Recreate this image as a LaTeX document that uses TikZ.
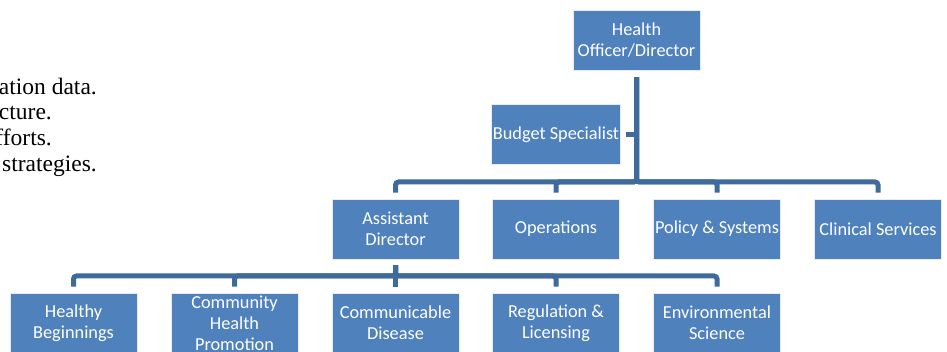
\documentclass[tikz,border=0pt]{standalone}
\usepackage{fontspec}
\setmainfont{Liberation Serif}
\newfontfamily\boxfont{Carlito}
\usepackage{tikz}
\usetikzlibrary{positioning}

\definecolor{orgblue}{HTML}{4F81BD}
\definecolor{orgline}{HTML}{3F6A9C}

\begin{document}
\begin{tikzpicture}[x=1pt, y=-1pt,
            box/.style={draw=white!85!orgblue, line width=0.8pt, fill=orgblue, text=white, rectangle, align=center,
                minimum width=127pt, minimum height=60pt, inner sep=1pt,
                font=\boxfont\fontsize{18.3}{21}\selectfont},
            link/.style={draw=orgline, line width=5pt, rounded corners=3pt},
            body/.style={anchor=base east, inner sep=0pt, font=\fontsize{23.5}{27}\selectfont}]
            \useasboundingbox (0,0) rectangle (947,352);

            % text running in from the page on the left
            \node[body] (line1) at (97,95) {ation data.};
            \node[body] (line2) at (52,120) {cture.};
            \node[body] (line3) at (52,146) {fforts.};
            \node[body] (line4) at (97,172) {strategies.};

            % top of the chart
            \node[box] (director) at (636.5,40) {Health\\Officer/Director};
            \node[box] (budget) at (556,134.5) {Budget Specialist};

            % second row
            \node[box] (assist) at (395.5,229) {Assistant\\Director};
            \node[box] (ops) at (556,229) {Operations};
            \node[box] (policy) at (717,229) {Policy \& Systems};
            \node[box] (clinical) at (878,229) {Clinical Services};

            % third row
            \node[box] (healthy) at (73.5,323) {Healthy\\Beginnings};
            \node[box] (community) at (234.5,323) {Community\\Health\\Promotion};
            \node[box] (disease) at (395.5,323) {Communicable\\Disease};
            \node[box] (regulation) at (556,323) {Regulation \&\\Licensing};
            \node[box] (environ) at (717,323) {Environmental\\Science};

            \coordinate (bus1) at (636.5,182);
            \coordinate (bus2) at (395.5,276);

            \draw[link] ([xshift=5pt]budget.east) -- (budget.east -| director.south);
            \draw[link] ([yshift=-7pt]director.south) |- (bus1 -| assist) -- ([yshift=6pt]assist.north);
            \draw[link] ([yshift=-7pt]director.south) |- (bus1 -| ops) -- ([yshift=6pt]ops.north);
            \draw[link] ([yshift=-7pt]director.south) |- (bus1 -| policy) -- ([yshift=6pt]policy.north);
            \draw[link] ([yshift=-7pt]director.south) |- (bus1 -| clinical) -- ([yshift=6pt]clinical.north);

            \draw[link] ([yshift=-6pt]assist.south) |- (bus2 -| healthy) -- ([yshift=6pt]healthy.north);
            \draw[link] ([yshift=-6pt]assist.south) |- (bus2 -| community) -- ([yshift=6pt]community.north);
            \draw[link] ([yshift=-6pt]assist.south) -- ([yshift=6pt]disease.north);
            \draw[link] ([yshift=-6pt]assist.south) |- (bus2 -| regulation) -- ([yshift=6pt]regulation.north);
            \draw[link] ([yshift=-6pt]assist.south) |- (bus2 -| environ) -- ([yshift=6pt]environ.north);
        \end{tikzpicture}
\end{document}
